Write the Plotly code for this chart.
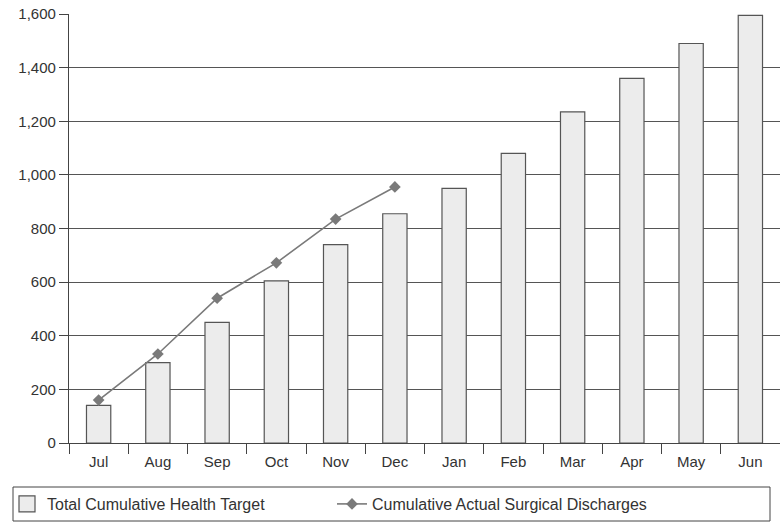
import plotly.graph_objects as go

months = ["Jul", "Aug", "Sep", "Oct", "Nov", "Dec", "Jan", "Feb", "Mar", "Apr", "May", "Jun"]
target = [140, 300, 450, 605, 740, 855, 950, 1080, 1235, 1360, 1490, 1595]
actual_months = ["Jul", "Aug", "Sep", "Oct", "Nov", "Dec"]
actual = [160, 332, 540, 672, 835, 955]

W, H = 780, 527
ml, mr, mt, mb = 69, 0, 14, 84
pw, ph = W - ml - mr, H - mt - mb

BAR_FILL = "#ececec"
BAR_EDGE = "#555555"
LINE_COL = "#7a7a7a"


def px_x(x):
    return (x - ml) / pw


def px_y(y):
    return (H - mb - y) / ph


fig = go.Figure()
fig.add_trace(go.Bar(
    x=months, y=target, name="Total Cumulative Health Target",
    width=0.41, showlegend=False, legendgroup="target",
    marker=dict(color=BAR_FILL, line=dict(color=BAR_EDGE, width=1.2)),
))
# larger square swatch for the bar series legend entry
fig.add_trace(go.Scatter(
    x=[None], y=[None], name="Total Cumulative Health Target",
    mode="markers", legendgroup="target",
    marker=dict(symbol="square", size=16, color=BAR_FILL,
                line=dict(color=BAR_EDGE, width=1.2)),
))
fig.add_trace(go.Scatter(
    x=actual_months, y=actual, name="Cumulative Actual Surgical Discharges",
    mode="lines+markers",
    line=dict(color=LINE_COL, width=1.6),
    marker=dict(symbol="diamond", size=9, color=LINE_COL),
))

# legend frame
fig.add_shape(type="rect", xref="paper", yref="paper",
              x0=px_x(13), x1=px_x(770), y0=px_y(521), y1=px_y(487),
              line=dict(color="#444444", width=1), fillcolor="rgba(0,0,0,0)")

fig.update_layout(
    width=W, height=H,
    margin=dict(l=ml, r=mr, t=mt, b=mb),
    paper_bgcolor="white", plot_bgcolor="white",
    font=dict(family="Liberation Sans, Arial, sans-serif", size=15, color="#333333"),
    showlegend=True,
    legend=dict(orientation="h", x=px_x(7), xanchor="left",
                y=px_y(487), yanchor="top",
                entrywidth=280, entrywidthmode="pixels",
                font=dict(size=16, color="#333333"),
                bgcolor="rgba(0,0,0,0)", borderwidth=0,
                traceorder="normal"),
)
fig.update_xaxes(
    type="category", range=[-0.5, 11.5],
    showline=True, linecolor="#444444", linewidth=1.2,
    ticks="outside", tickson="boundaries", ticklen=10, tickcolor="#444444",
    ticklabelstandoff=5,
    showgrid=False, tickfont=dict(size=15, color="#333333"),
)
fig.update_yaxes(
    range=[0, 1600], dtick=200, tickformat=",",
    showline=True, linecolor="#444444", linewidth=1.2,
    ticks="outside", ticklen=9, tickcolor="#444444",
    showgrid=True, gridcolor="#555555", gridwidth=1,
    zeroline=False, tickfont=dict(size=15, color="#333333"),
)

fig.write_html("out.html")
